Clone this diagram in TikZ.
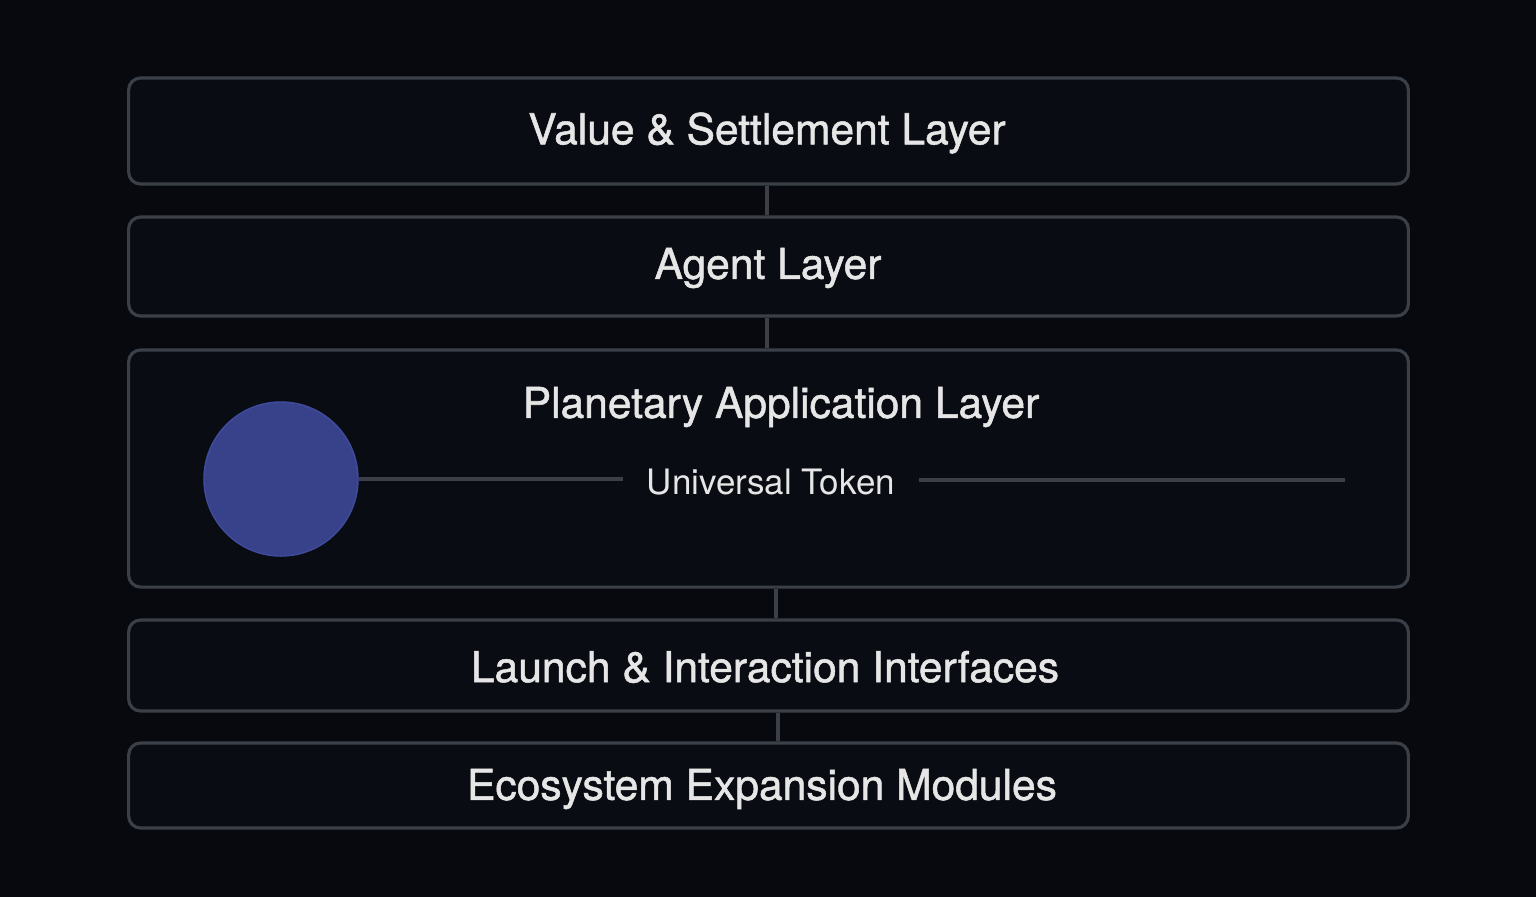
\documentclass[tikz,border=0pt]{standalone}
\usepackage{fontspec}
\setmainfont{TeX Gyre Heros}
\newfontfamily\layerfont[FakeBold=1.2]{TeX Gyre Heros}
\usepackage{tikz}
\usetikzlibrary{positioning,calc}
\usepackage{xcolor}
\definecolor{bgcol}{HTML}{07090E}
\definecolor{boxfill}{HTML}{0A0C13}
\definecolor{boxline}{HTML}{3A3F48}
\definecolor{txtcol}{HTML}{E6E6E6}
\definecolor{coinfill}{HTML}{37428A}
\definecolor{coinline}{HTML}{3F4C9E}
\tikzset{
    layer/.style={
        draw=boxline,
        fill=boxfill,
        line width=0.9pt,
        rounded corners=0.12cm,
        minimum width=12.79cm,
        inner sep=0pt
    },
    layertext/.style={
        text=txtcol,
        font=\layerfont\fontsize{12.1}{14}\selectfont,
        inner sep=0pt
    },
    link/.style={
        draw=boxline,
        line width=0.9pt
    }
}

\begin{document}
\begin{tikzpicture}[x=0.01cm, y=-0.01cm]
    % Background
    \useasboundingbox (0,0) rectangle (1536,896);
    \fill[bgcol] (-10,-10) rectangle (1546,906);

    % Layers
    \node[layer, minimum height=1.06cm] (value) at (768.5,131) {};
    \node[layer, minimum height=0.99cm] (agent) at (768.5,266.5) {};
    \node[layer, minimum height=2.37cm] (planet) at (768.5,468.5) {};
    \node[layer, minimum height=0.91cm] (launch) at (768.5,665.5) {};
    \node[layer, minimum height=0.85cm] (eco) at (768.5,785.5) {};

    % Connectors
    \draw[link] ([xshift=-0.015cm]value.south) -- ([xshift=-0.015cm]agent.north);
    \draw[link] ([xshift=-0.015cm]agent.south) -- ([xshift=-0.015cm]planet.north);
    \draw[link] ([xshift=0.075cm]planet.south) -- ([xshift=0.075cm]launch.north);
    \draw[link] ([xshift=0.095cm]launch.south) -- ([xshift=0.095cm]eco.north);

    % Labels
    \node[layertext] (valuetxt) at (767,133) {Value \& Settlement Layer};
    \node[layertext] (agenttxt) at (768,268) {Agent Layer};
    \node[layertext] (planettxt) at (781,407) {Planetary Application Layer};
    \node[layertext] (launchtxt) at (765,667) {Launch \& Interaction Interfaces};
    \node[layertext] (ecotxt) at (762,789) {Ecosystem Expansion Modules};

    % Universal token
    \node[circle, draw=coinline, fill=coinfill, line width=0.4pt,
          minimum size=1.54cm, inner sep=0pt] (coin) at (281,479) {};
    \node[text=txtcol, font=\fontsize{9.95}{12}\selectfont,
          inner xsep=0.23cm, inner ysep=0pt] (token) at (771,482) {Universal Token};
    \coordinate (tokenend) at (1345,480);
    \draw[link] (coin.east) -- (coin.east -| token.west);
    \draw[link] (token.east |- tokenend) -- (tokenend);
\end{tikzpicture}
\end{document}
